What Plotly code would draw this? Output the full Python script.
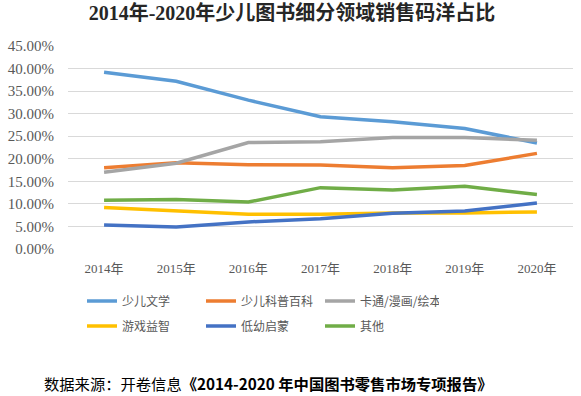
import plotly.graph_objects as go

years = ["2014年", "2015年", "2016年", "2017年", "2018年", "2019年", "2020年"]
series_names = ["少儿文学", "少儿科普百科", "卡通/漫画/绘本", "游戏益智", "低幼启蒙", "其他"]
literature = [39.2, 37.2, 33.0, 29.3, 28.2, 26.7, 23.5]
science = [18.0, 19.1, 18.7, 18.6, 18.0, 18.5, 21.2]
cartoon = [17.0, 19.0, 23.6, 23.8, 24.7, 24.7, 24.1]
games = [9.2, 8.5, 7.7, 7.7, 8.0, 8.0, 8.2]
early = [5.3, 4.9, 6.0, 6.7, 7.9, 8.4, 10.2]
others = [10.8, 11.0, 10.4, 13.6, 13.1, 13.9, 12.1]
colors = ["#5B9BD5", "#ED7D31", "#A5A5A5", "#FFC000", "#4472C4", "#70AD47"]
y_ticks = [0, 5, 10, 15, 20, 25, 30, 35, 40, 45]
y_tick_labels = [f"{v:.2f}%" for v in y_ticks]

title_text = "2014年-2020年少儿图书细分领域销售码洋占比"
source_text = "数据来源：开卷信息<b>《2014-2020 年中国图书零售市场专项报告》</b>"

W, H = 581, 396
ML, MR, MT, MB = 61, 8, 46, 147
values = [literature, science, cartoon, games, early, others]

fig = go.Figure()
for i, (name, vals, col) in enumerate(zip(series_names, values, colors)):
    fig.add_trace(go.Scatter(
        x=years, y=vals, name=name, mode="lines",
        line=dict(color=col, width=3.5),
        legend="legend" if i < 3 else "legend2",
    ))

legend_common = dict(
    orientation="h", xref="container", yref="container",
    xanchor="left", yanchor="middle",
    font=dict(family="Noto Sans CJK SC", size=12, color="#595959"),
    entrywidth=74, entrywidthmode="pixels",
    itemwidth=30, bgcolor="rgba(0,0,0,0)", borderwidth=0,
)

fig.update_layout(
    width=W, height=H,
    margin=dict(l=ML, r=MR, t=MT, b=MB),
    paper_bgcolor="white", plot_bgcolor="white",
    showlegend=True,
    title=dict(
        text="<b>" + title_text + "</b>",
        x=292 / W, xanchor="center", xref="container",
        y=1 - 13 / H, yanchor="middle", yref="container",
        font=dict(family="Liberation Serif, Noto Sans CJK SC", size=20, color="#262626"),
    ),
    legend=dict(legend_common, x=82 / W, y=1 - 301 / H),
    legend2=dict(legend_common, x=82 / W, y=1 - 326 / H),
    xaxis=dict(
        type="category", range=[-0.5, 6.5],
        showgrid=False, zeroline=False, showline=False, ticks="",
        tickfont=dict(family="Liberation Serif, Noto Sans CJK SC", size=13, color="#595959"),
        ticklabelstandoff=10,
    ),
    yaxis=dict(
        range=[0, 45], tickmode="array", tickvals=y_ticks, ticktext=y_tick_labels,
        showgrid=True, gridcolor="#D9D9D9", gridwidth=1,
        zeroline=False, showline=False, ticks="",
        tickfont=dict(family="Liberation Serif", size=15, color="#595959"),
        ticklabelstandoff=13,
    ),
    annotations=[dict(
        text=source_text, xref="paper", yref="paper",
        x=(35 - ML) / (W - ML - MR), y=(H - MB - 383) / (H - MT - MB),
        xanchor="left", yanchor="middle",
        showarrow=False,
        font=dict(family="Noto Sans CJK SC", size=15.3, color="#000000"),
    )],
)

fig.write_html(
    "out.html",
    config={"displayModeBar": False},
    post_script="document.body.style.margin='0';document.body.style.padding='0';",
)
